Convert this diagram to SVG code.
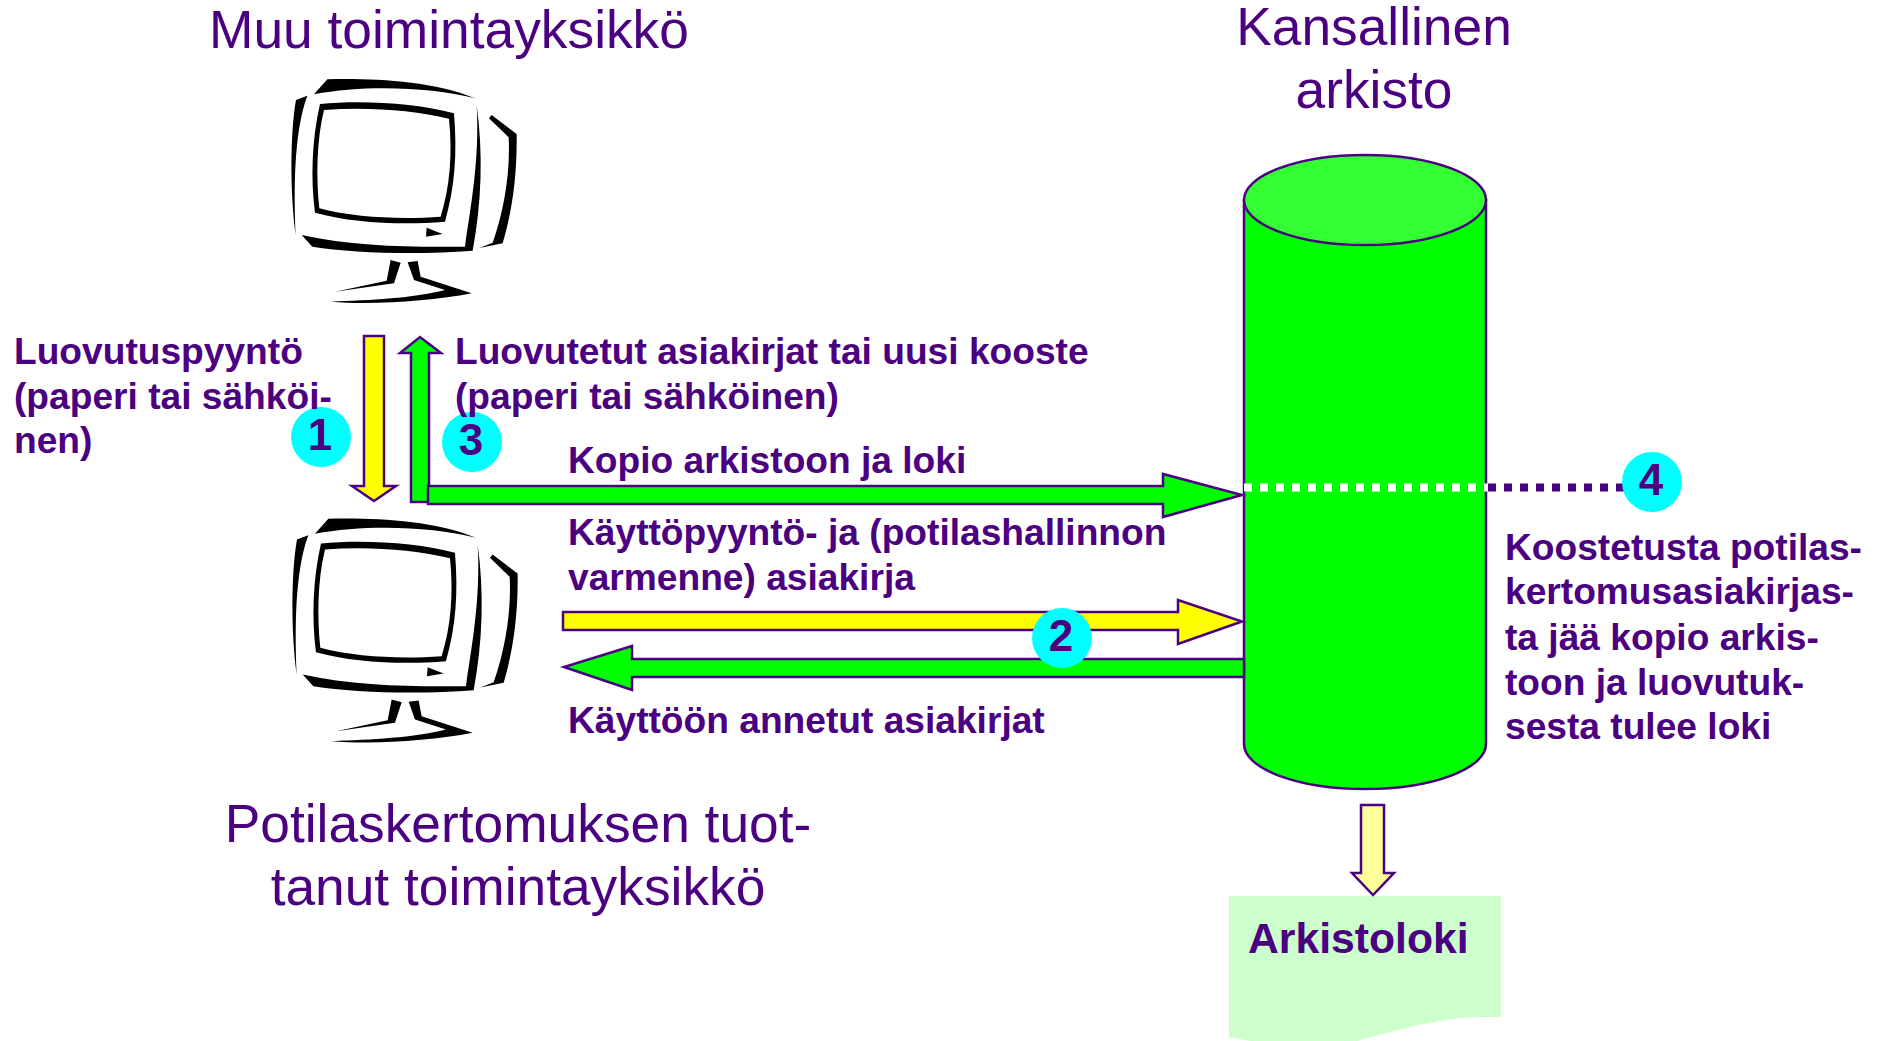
<svg xmlns="http://www.w3.org/2000/svg" width="1883" height="1041" viewBox="0 0 1883 1041">
<style>
text{font-family:"Liberation Sans",Arial,sans-serif;fill:#4b0082}
.t{font-size:53.300px}
.b{font-size:37.150px;font-weight:bold}
.n{font-size:44px;font-weight:bold;text-anchor:middle}
.a{stroke:#4b0082;stroke-width:2.500;stroke-linejoin:miter}
.g{fill:#00ff00}.y{fill:#ffff00}
.c{fill:#00ffff}
</style>
<defs>
<g id="mon" transform="scale(.3333)">
<path d="M132,103L172,58C300,55 480,60 615,115C480,80 280,75 132,103Z"/>
<path d="M112,107L78,120C60,220 60,400 77,525C72,400 70,220 112,107Z"/>
<path fill-rule="evenodd" d="M150,132C280,120 440,130 552,160C562,280 555,380 525,485C400,495 250,490 135,458C122,360 125,240 150,132ZM162,150C290,140 430,150 537,176C548,280 540,380 512,470C400,478 260,475 148,445C138,350 140,240 162,150Z"/>
<path d="M470,503L518,522L468,530Z"/>
<path d="M95,525C250,560 430,562 585,560C600,450 630,300 620,135C640,280 635,430 608,572C450,585 250,580 127,560Z"/>
<path d="M665,165L740,222C742,350 725,460 698,550L628,564L668,548C700,460 722,340 716,232L657,175Z"/>
<path d="M362,600L392,608L372,670L195,695L350,662Z"/>
<path d="M413,607L443,603L452,650L605,700C480,725 300,735 182,725C300,720 430,715 525,690L432,660Z"/>
</g>
</defs>
<rect width="1883" height="1041" fill="#fff"/>
<g id="monitor-top"><use href="#mon" x="270" y="60"/></g>
<g id="monitor-bottom"><use href="#mon" x="271" y="499.500"/></g>
<g id="cylinder">
<path fill="#00ff00" stroke="#4b0082" stroke-width="2.500" d="M1244,200V744A121,45 0 0 0 1486,744V200Z"/>
<ellipse cx="1365" cy="200" rx="121" ry="45" fill="#33ff33" stroke="#4b0082" stroke-width="2.500"/>
</g>
<g id="log">
<path fill="#ccffcc" d="M1229,896H1501V1017C1480,1017 1470,1017 1460,1018C1420,1023 1390,1032 1357,1041H1250L1229,1037Z"/>
<text x="1248" y="953" style="font-size:42.700px;font-weight:bold">Arkistoloki</text>
</g>
<g id="connectors">
<path class="a y" d="M364,336H384V486H396L374,501L352,486H364Z"/>
<path class="a g" d="M411,502V353H400L420,337L441,353H429V502Z"/>
<path class="a g" d="M428,486H1163V474L1242,495L1163,517V504H428Z"/>
<path class="a y" d="M563,612H1178V600L1242,621.500L1178,644V630H563Z"/>
<path class="a g" d="M1244,659V677H632V690L564,667L632,646V659Z"/>
<path fill="#ffff99" class="a" d="M1361,805H1384V873H1394L1373,895L1352,873H1361Z"/>
<path d="M1244,487.500H1490" fill="none" stroke="#fff" stroke-width="8" stroke-dasharray="8 8"/>
<path d="M1488,487.500H1630" fill="none" stroke="#4b0082" stroke-width="8" stroke-dasharray="8 8"/>
</g>
<g id="badge-1"><circle class="c" cx="321" cy="437" r="30"/><text class="n" x="320" y="450">1</text></g>
<g id="badge-3"><circle class="c" cx="472" cy="442" r="30"/><text class="n" x="471" y="455">3</text></g>
<g id="badge-2"><circle class="c" cx="1062" cy="638" r="30"/><text class="n" x="1061" y="651">2</text></g>
<g id="badge-4"><circle class="c" cx="1652" cy="482" r="30"/><text class="n" x="1651" y="495">4</text></g>
<g id="labels">
<text class="t" x="449" y="48" text-anchor="middle">Muu toimintayksikkö</text>
<text class="t" x="1374" y="45" text-anchor="middle">Kansallinen</text>
<text class="t" x="1374" y="108" text-anchor="middle">arkisto</text>
<text class="t" x="518" y="842" text-anchor="middle">Potilaskertomuksen tuot-</text>
<text class="t" x="518" y="905" text-anchor="middle">tanut toimintayksikkö</text>
<text class="b" x="14" y="364">Luovutuspyyntö</text>
<text class="b" x="14" y="409">(paperi tai sähköi-</text>
<text class="b" x="14" y="453">nen)</text>
<text class="b" x="455" y="364">Luovutetut asiakirjat tai uusi kooste</text>
<text class="b" x="455" y="409">(paperi tai sähköinen)</text>
<text class="b" x="568" y="473">Kopio arkistoon ja loki</text>
<text class="b" x="568" y="545">Käyttöpyyntö- ja (potilashallinnon</text>
<text class="b" x="568" y="590">varmenne) asiakirja</text>
<text class="b" x="568" y="733">Käyttöön annetut asiakirjat</text>
<text class="b" x="1505" y="560">Koostetusta potilas-</text>
<text class="b" x="1505" y="604">kertomusasiakirjas-</text>
<text class="b" x="1505" y="650">ta jää kopio arkis-</text>
<text class="b" x="1505" y="695">toon ja luovutuk-</text>
<text class="b" x="1505" y="739">sesta tulee loki</text>
</g>
</svg>
